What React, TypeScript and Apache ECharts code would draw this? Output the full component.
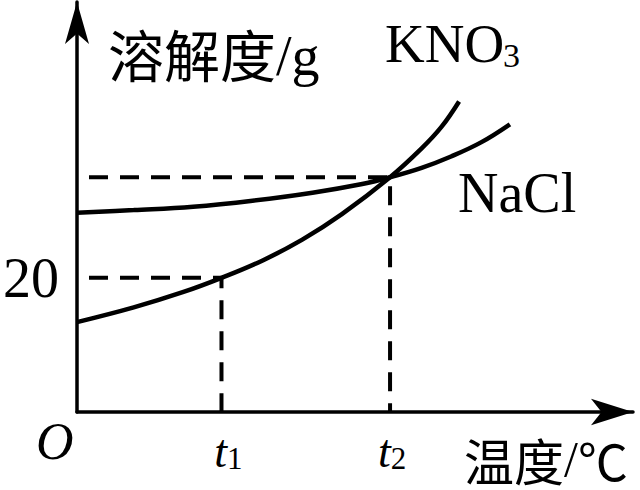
import React, { useEffect, useRef } from "react";
import * as echarts from "echarts";

// Temperature ticks (t1, t2) and solubility tick
const tempTicks = [27, 58.5];
const tempTickSubs = ["1", "2"];
const solTicks = [20];

// KNO3 solubility curve
const kno3Temp = [0, 10.6, 19.9, 27, 34.7, 42.1, 49.5, 58.5, 64.4, 68.1, 71.4];
const kno3Sol = [13.4, 15.6, 17.9, 20, 22.6, 25.7, 29.5, 35, 39.3, 42.5, 46.3];

// NaCl solubility curve
const naclTemp = [0, 10.6, 21.7, 32.8, 44, 53.3, 58.5, 64.4, 69.9, 75.5, 80.9];
const naclSol = [29.7, 30.1, 30.6, 31.5, 32.7, 34, 35, 36.4, 38.1, 40.2, 42.9];

// Guide values (solubility at t1 and t2)
const guideSol = [20, 35];

const SERIF = "'Liberation Serif', 'Times New Roman', serif";
const CJK = "'Noto Sans CJK SC', sans-serif";

export default function App() {
  const ref = useRef<HTMLDivElement>(null);

  useEffect(() => {
    if (!ref.current) return;
    const chart = echarts.init(ref.current, null, { renderer: "svg" });

    const kno3 = kno3Temp.map((t, i) => [t, kno3Sol[i]]);
    const nacl = naclTemp.map((t, i) => [t, naclSol[i]]);
    const guides = tempTicks.map((t, i) => [
      [0, guideSol[i]],
      [t, guideSol[i]],
      [t, 0],
    ]);

    const dashStyle = {
      color: "#000",
      width: 4,
      type: [19, 12] as any,
      dashOffset: 19,
      cap: "butt" as const,
    };

    chart.setOption({
      animation: false,
      backgroundColor: "#fff",
      grid: { left: 73, right: 7, top: 2, bottom: 78 },
      xAxis: {
        type: "value",
        min: 0,
        max: 103.9,
        splitLine: { show: false },
        axisTick: { show: false },
        axisLine: {
          show: true,
          symbol: ["none", "arrow"],
          symbolSize: [20, 42],
          lineStyle: { color: "#000", width: 3.5 },
        },
        axisLabel: {
          show: true,
          customValues: tempTicks,
          margin: 16,
          formatter: (v: number) => {
            const i = tempTicks.findIndex((t) => Math.abs(t - v) < 1e-6);
            if (i < 0) return "";
            return i === 0
              ? `{a|t}{s|${tempTickSubs[i]}}`
              : `{b|t}{s|${tempTickSubs[i]}}`;
          },
          rich: {
            a: {
              fontFamily: SERIF,
              fontStyle: "italic",
              fontSize: 46,
              color: "#000",
              padding: [0, 0, 0, 14],
            },
            b: {
              fontFamily: SERIF,
              fontStyle: "italic",
              fontSize: 46,
              color: "#000",
              padding: [0, 0, 0, 4],
            },
            s: {
              fontFamily: SERIF,
              fontSize: 31,
              color: "#000",
              verticalAlign: "bottom",
            },
          },
        },
      },
      yAxis: {
        type: "value",
        min: 0,
        max: 61.13,
        splitLine: { show: false },
        axisTick: { show: false },
        axisLine: {
          show: true,
          symbol: ["none", "arrow"],
          symbolSize: [18, 42],
          lineStyle: { color: "#000", width: 3.5 },
        },
        axisLabel: {
          show: true,
          customValues: solTicks,
          margin: 18,
          fontFamily: SERIF,
          fontSize: 56,
          color: "#000",
        },
      },
      series: [
        ...guides.map((g, i) => ({
          type: "line",
          name: "guide" + i,
          data: g,
          silent: true,
          symbol: "none",
          lineStyle: dashStyle,
          z: 1,
        })),
        {
          type: "line",
          name: "KNO3",
          data: kno3,
          smooth: 0.4,
          silent: true,
          symbol: "none",
          lineStyle: { color: "#000", width: 4.5 },
          z: 3,
        },
        {
          type: "line",
          name: "NaCl",
          data: nacl,
          smooth: 0.4,
          silent: true,
          symbol: "none",
          lineStyle: { color: "#000", width: 4.5 },
          z: 3,
        },
      ],
      graphic: [
        {
          type: "text",
          x: 108,
          y: 52,
          style: {
            text: "{c|溶解度}{l|/g}",
            verticalAlign: "middle",
            align: "left",
            rich: {
              c: { fontFamily: CJK, fontSize: 56, fill: "#000" },
              l: { fontFamily: SERIF, fontSize: 56, fill: "#000", padding: [8, 0, 0, 0] },
            },
          },
        },
        {
          type: "text",
          x: 385,
          y: 43,
          style: {
            text: "KNO",
            fontFamily: SERIF,
            fontSize: 55,
            fill: "#000",
            verticalAlign: "middle",
            align: "left",
          },
        },
        {
          type: "text",
          x: 503,
          y: 55,
          style: {
            text: "3",
            fontFamily: SERIF,
            fontSize: 34,
            fill: "#000",
            verticalAlign: "middle",
            align: "left",
          },
        },
        {
          type: "text",
          x: 458,
          y: 193,
          style: {
            text: "NaCl",
            fontFamily: SERIF,
            fontSize: 56,
            fill: "#000",
            verticalAlign: "middle",
            align: "left",
          },
        },
        {
          type: "text",
          x: 36,
          y: 441.5,
          style: {
            text: "O",
            fontFamily: SERIF,
            fontStyle: "italic",
            fontSize: 52,
            fill: "#000",
            verticalAlign: "middle",
            align: "left",
          },
        },
        {
          type: "text",
          x: 464,
          y: 459,
          style: {
            text: "{c|温度}{l|/}{c|℃}",
            verticalAlign: "middle",
            align: "left",
            rich: {
              c: { fontFamily: CJK, fontSize: 50, fill: "#000" },
              l: { fontFamily: SERIF, fontSize: 50, fill: "#000" },
            },
          },
        },
      ],
    });

    return () => chart.dispose();
  }, []);

  return (
    <div
      ref={ref}
      style={{ position: "absolute", left: 0, top: 0, width: 640, height: 490 }}
    />
  );
}
